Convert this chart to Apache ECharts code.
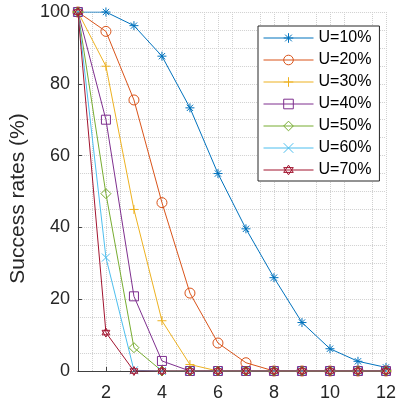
<!DOCTYPE html>
<html>
<head>
<meta charset="utf-8">
<script src="https://cdn.jsdelivr.net/npm/echarts@6/dist/echarts.min.js"></script>
<style>
  html, body { margin: 0; padding: 0; background: #fff; }
  #chart { width: 399px; height: 405px; }
</style>
</head>
<body>
<div id="chart"></div>
<script>
  // data
  const steps = [1, 2, 3, 4, 5, 6, 7, 8, 9, 10, 11, 12];
  const xTicks = [2, 4, 6, 8, 10, 12];
  const names = ['U=10%', 'U=20%', 'U=30%', 'U=40%', 'U=50%', 'U=60%', 'U=70%'];
  const u10 = [100, 100, 96.2, 87.7, 73.3, 55, 39.6, 26, 13.5, 6.2, 2.7, 1];
  const u20 = [100, 94.6, 75.5, 46.9, 21.7, 7.8, 2.3, 0, 0, 0, 0, 0];
  const u30 = [100, 84.9, 45, 14, 1.8, 0, 0, 0, 0, 0, 0, 0];
  const u40 = [100, 70, 20.8, 2.8, 0, 0, 0, 0, 0, 0, 0, 0];
  const u50 = [100, 49.4, 6.5, 0, 0, 0, 0, 0, 0, 0, 0, 0];
  const u60 = [100, 31.6, 0.2, 0, 0, 0, 0, 0, 0, 0, 0, 0];
  const u70 = [100, 10.7, 0, 0, 0, 0, 0, 0, 0, 0, 0, 0];
  const values = [u10, u20, u30, u40, u50, u60, u70];

  const colors = ['#0072BD', '#D95319', '#EDB120', '#7E2F8E', '#77AC30', '#4DBEEE', '#A2142F'];
  const markers = [
    'path://M0,-1L0,1M-1,0L1,0M-0.7,-0.7L0.7,0.7M-0.7,0.7L0.7,-0.7',
    'path://M1,0A1,1,0,1,1,-1,0A1,1,0,1,1,1,0Z',
    'path://M0,-1L0,1M-1,0L1,0',
    'path://M-1,-1L1,-1L1,1L-1,1Z',
    'path://M0,-1L1,0L0,1L-1,0Z',
    'path://M-1,-1L1,1M-1,1L1,-1',
    'path://M0,-1L0.866,0.5L-0.866,0.5ZM0,1L0.866,-0.5L-0.866,-0.5Z'
  ];
  const sizes = [9, 10, 9, 9, 10, 8, 9];

  const font = '"Liberation Sans", Arial, Helvetica, sans-serif';
  const axisColor = '#404040';
  const gridColor = '#d0d0d0';

  const series = names.map((name, i) => ({
    name: name,
    type: 'line',
    data: steps.map((x, j) => [x, values[i][j]]),
    symbol: markers[i],
    symbolSize: sizes[i],
    symbolKeepAspect: true,
    showAllSymbol: true,
    lineStyle: { color: colors[i], width: 1 },
    itemStyle: { color: 'rgba(0,0,0,0)', borderColor: colors[i], borderWidth: 1 },
    emphasis: { disabled: true },
    z: 2 + i
  }));

  const legendData = names.map((name, i) => ({
    name: name,
    lineStyle: { color: colors[i], width: 1 },
    itemStyle: { color: 'rgba(0,0,0,0)', borderColor: colors[i], borderWidth: 1 }
  }));

  const chart = echarts.init(document.getElementById('chart'));
  chart.setOption({
    animation: false,
    backgroundColor: '#fff',
    grid: { left: 71, right: 10, top: 12, bottom: 34 },
    legend: {
      data: legendData,
      orient: 'vertical',
      left: 258,
      top: 26,
      padding: [4, 8, 3, 5],
      itemWidth: 50,
      itemHeight: 12,
      itemGap: 6,
      borderColor: '#262626',
      borderWidth: 1,
      backgroundColor: '#fff',
      textStyle: { fontFamily: font, fontSize: 16, color: '#000', lineHeight: 16 }
    },
    xAxis: {
      type: 'value',
      min: 1,
      max: 12,
      interval: 1,
      axisLine: { onZero: false, lineStyle: { color: axisColor, width: 1 } },
      axisTick: { inside: true, length: 4, customValues: xTicks, lineStyle: { color: axisColor } },
      axisLabel: { customValues: xTicks, fontFamily: font, fontSize: 18, color: '#262626', margin: 13 },
      splitLine: { show: true, lineStyle: { type: 'dotted', color: gridColor } },
      minorTick: { show: false, splitNumber: 2 },
      minorSplitLine: { show: true, lineStyle: { type: 'dotted', color: gridColor } }
    },
    yAxis: {
      type: 'value',
      min: 0,
      max: 100,
      interval: 20,
      name: 'Success rates (%)',
      nameLocation: 'middle',
      nameGap: 44,
      nameTextStyle: { fontFamily: font, fontSize: 21, color: '#262626', padding: [0, 14, 0, 0] },
      axisLine: { show: true, lineStyle: { color: axisColor, width: 1 } },
      axisTick: { show: true, inside: true, length: 4, lineStyle: { color: axisColor } },
      axisLabel: { fontFamily: font, fontSize: 18, color: '#262626', margin: 8 },
      splitLine: { show: true, lineStyle: { type: 'dotted', color: gridColor } },
      minorTick: { show: false, splitNumber: 4 },
      minorSplitLine: { show: true, lineStyle: { type: 'dotted', color: gridColor } }
    },
    series: series
  });
</script>
</body>
</html>
